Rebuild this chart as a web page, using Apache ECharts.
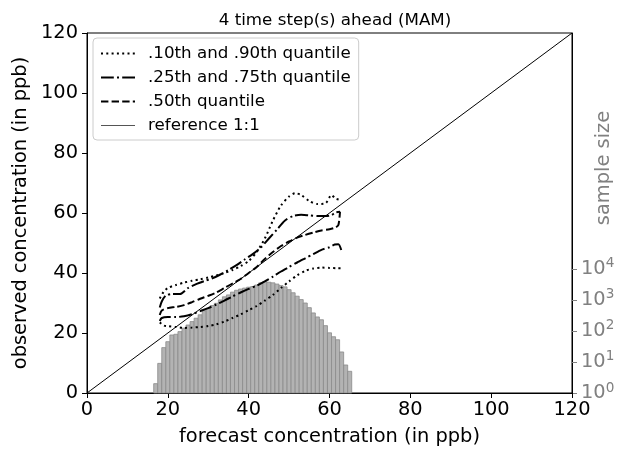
<!DOCTYPE html>
<html><head><meta charset="utf-8">
<script src="https://cdn.jsdelivr.net/npm/echarts@6/dist/echarts.min.js"></script>
<style>html,body{margin:0;padding:0;background:#fff}#c{width:619px;height:451px}</style>
</head><body><div id="c"></div>
<script>
// ---- data ----
const axisTicks = [0, 20, 40, 60, 80, 100, 120];
const sampleExponents = [0, 1, 2, 3, 4];
const binCenters = [17,18,19,20,21,22,23,24,25,26,27,28,29,30,31,32,33,34,35,36,37,38,39,40,41,42,43,44,45,46,47,48,49,50,51,52,53,54,55,56,57,58,59,60,61,62,63,64,65];
const sampleCounts = [2,9,29,45,74,78,95,123,155,200,257,331,447,537,661,776,1000,1259,1445,1778,2042,2239,2399,2570,2692,3020,3548,3890,3715,3548,3236,2884,2630,2138,1698,1318,1023,794,562,380,282,229,148,87,65,52,21,8,5];
const q90 = [[18,31.5],[19,33.8],[20,35],[22,36],[24,36.8],[26,37.4],[28,37.9],[30,38.5],[32,39.2],[34,40],[36,41],[38,42.3],[40,44],[42,47],[44,51.5],[46,57.5],[48,62.5],[50,65.5],[51.5,66.6],[53,66],[55,64],[57,63],[59,63.2],[60.5,66],[61.5,64.8],[63,64.3]];
const q75 = [[18,28.5],[18.5,30.5],[19.5,32.5],[21,33],[23,33],[25,35],[27,36.3],[29,37.3],[31,38.2],[33,39.5],[35,41],[37,42.6],[39,44.5],[41,46.3],[43,48.5],[45,51.5],[47,54.5],[49,57.5],[51,59],[53,59.4],[55,59.2],[57,59],[59,59],[60.5,59.3],[61.5,60.2],[62.6,60.4]];
const q50 = [[18,26],[18.5,27.5],[20,28.3],[22,28.7],[24,29.3],[26,30.3],[28,31.4],[30,32.4],[32,33.5],[34,35],[36,36.5],[38,38],[40,40],[42,42],[44,44.7],[46,47],[48,49],[50,50.5],[52,51.8],[54,52.7],[56,53.5],[58,54.2],[60,54.6],[61.5,55.2],[62.2,56],[62.6,60.4]];
const q25 = [[18,24],[18.5,25],[20,25.3],[22,25.3],[24,25.6],[26,26.3],[28,27.3],[30,28.3],[32,29.5],[34,30.8],[36,32.2],[38,33.5],[40,34.7],[42,35.8],[44,37.2],[46,38.8],[48,40.5],[50,42],[52,43.5],[54,44.9],[56,46.3],[58,47.7],[60,48.6],[61.3,49.5],[62.2,49.6],[63,47.3]];
const q10 = [[18,23.5],[19,22.5],[20,22.3],[22,22],[24,21.7],[26,21.8],[28,22],[30,22.3],[32,22.9],[34,23.8],[36,25],[38,26.2],[40,27.6],[42,29],[44,30.8],[46,32.7],[48,35],[50,37.2],[52,39.2],[54,40.7],[56,41.5],[58,41.8],[60,41.7],[62,41.6],[63,41.6]];
const refLine = [[0,0],[120,120]];
const names = {
  q1090: '.10th and .90th quantile',
  q2575: '.25th and .75th quantile',
  q50: '.50th quantile',
  ref: 'reference 1:1'
};
const titleText = '4 time step(s) ahead (MAM)';
const xName = 'forecast concentration (in ppb)';
const yName = 'observed concentration (in ppb)';
const y2Name = 'sample size';

// ---- chart ----
const FONT = 'DejaVu Sans';
const BIG = 19.4, MID = 16.7, SUP = 13.6;
const chart = echarts.init(document.getElementById('c'), null, {renderer: 'canvas'});
const histData = binCenters.map((c, i) => [c, Math.log10(sampleCounts[i])]);
const dotted = [2, 3.3], dashdot = [12.8, 3.2, 2, 3.2], dashed = [7.4, 3.2];
function lineSeries(name, data, dash) {
  return {
    type: 'line', name: name, data: data, xAxisIndex: 0, yAxisIndex: 0,
    showSymbol: false, symbol: 'none', smooth: 0.25, z: 5, color: '#000',
    itemStyle: {color: '#000'},
    lineStyle: {color: '#000', width: 2, type: dash}, silent: true
  };
}
const option = {
  animation: false,
  backgroundColor: '#fff',
  textStyle: {fontFamily: FONT},
  title: {
    text: titleText, left: 330, top: 7, textAlign: 'center',
    textStyle: {fontFamily: FONT, fontSize: MID, fontWeight: 'normal', color: '#000'}
  },
  grid: {left: 87, right: 47, top: 33, bottom: 58, show: true, borderColor: '#000', borderWidth: 1, backgroundColor: 'transparent'},
  legend: {
    left: 93, top: 38, orient: 'vertical',
    padding: [7, 8, 6, 7], itemWidth: 34, itemHeight: 14, itemGap: 7,
    backgroundColor: 'rgba(255,255,255,0.85)', borderColor: '#cccccc', borderWidth: 1, borderRadius: 4,
    itemStyle: {opacity: 0},
    textStyle: {fontFamily: FONT, fontSize: MID, color: '#000', padding: [0, 0, 0, 8]},
    data: [
      {name: names.q1090},
      {name: names.q2575},
      {name: names.q50},
      {name: names.ref, lineStyle: {color: '#555', width: 1.2}}
    ]
  },
  xAxis: [{
    type: 'value', min: 0, max: 120, interval: 20,
    name: xName, nameLocation: 'middle', nameGap: 34,
    nameTextStyle: {fontFamily: FONT, fontSize: BIG, color: '#000'},
    axisLine: {show: true, lineStyle: {color: '#000', width: 1}},
    axisTick: {show: true, inside: false, length: 5, lineStyle: {color: '#000'}},
    axisLabel: {fontFamily: FONT, fontSize: BIG, color: '#000', margin: 7, customValues: axisTicks},
    splitLine: {show: false}
  }],
  yAxis: [{
    type: 'value', min: 0, max: 120, interval: 20, position: 'left',
    name: yName, nameLocation: 'middle', nameGap: 54,
    nameTextStyle: {fontFamily: FONT, fontSize: BIG, color: '#000'},
    axisLine: {show: true, lineStyle: {color: '#000', width: 1}},
    axisTick: {show: true, inside: false, length: 5, lineStyle: {color: '#000'}},
    axisLabel: {fontFamily: FONT, fontSize: BIG, color: '#000', margin: 9},
    splitLine: {show: false}
  }, {
    type: 'value', min: 0, max: 11.6, position: 'right',
    axisLine: {show: true, lineStyle: {color: '#000', width: 1}},
    axisTick: {show: true, inside: false, length: 5, lineStyle: {color: '#808080'}, customValues: sampleExponents},
    axisLabel: {
      fontFamily: FONT, color: '#808080', margin: 9, customValues: sampleExponents,
      formatter: v => '{b|10}{s|' + v + '}',
      rich: {
        b: {fontFamily: FONT, fontSize: BIG, color: '#808080'},
        s: {fontFamily: FONT, fontSize: SUP, color: '#808080', verticalAlign: 'top', padding: [0, 0, 10, 0]}
      }
    },
    splitLine: {show: false}
  }],
  graphic: [{
    type: 'text', x: 604, y: 168, rotation: Math.PI / 2,
    style: {text: y2Name, fill: '#808080', font: BIG + 'px "DejaVu Sans"', align: 'center', verticalAlign: 'middle'}
  }],
  series: [
    {
      type: 'custom', name: 'samples', xAxisIndex: 0, yAxisIndex: 1, z: 1, silent: true,
      data: histData,
      renderItem: function (params, api) {
        const c = api.value(0), v = api.value(1);
        const p0 = api.coord([c - 0.5, 0]);
        const p1 = api.coord([c + 0.5, v]);
        return {
          type: 'rect',
          shape: {x: p0[0], y: p1[1], width: p1[0] - p0[0], height: p0[1] - p1[1]},
          style: {fill: '#b3b3b3', stroke: '#8a8a8a', lineWidth: 0.8}
        };
      }
    },
    lineSeries(names.q1090, q90, dotted),
    lineSeries(names.q1090, q10, dotted),
    lineSeries(names.q2575, q75, dashdot),
    lineSeries(names.q2575, q25, dashdot),
    lineSeries(names.q50, q50, dashed),
    {
      type: 'line', name: names.ref, data: refLine, showSymbol: false, symbol: 'none', z: 4, silent: true,
      color: '#000', itemStyle: {color: '#000'},
      lineStyle: {color: '#000', width: 1}
    }
  ]
};
chart.setOption(option);
</script>
</body></html>
